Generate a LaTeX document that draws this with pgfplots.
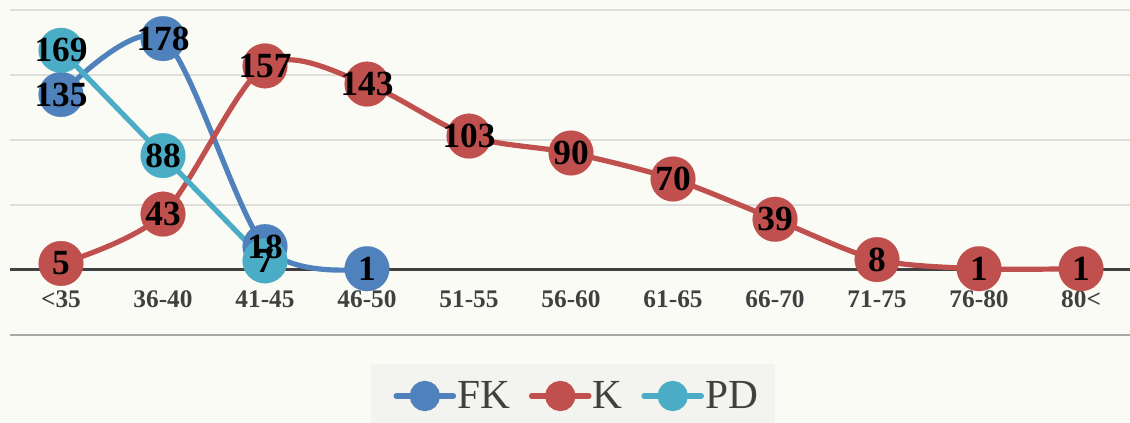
\documentclass[border=0pt]{standalone}
\usepackage{fontspec}
\setmainfont{Liberation Serif}
\usepackage{pgfplots}
\pgfplotsset{compat=1.18}
\definecolor{bgc}{HTML}{FBFBF6}
\definecolor{legc}{HTML}{F3F3EF}
\definecolor{gridc}{HTML}{DEDEDA}
\definecolor{botc}{HTML}{A8A8A6}
\definecolor{axc}{HTML}{404040}
\definecolor{tickc}{HTML}{404040}
\definecolor{fkc}{HTML}{4F81BD}
\definecolor{kc}{HTML}{C0504D}
\definecolor{pdc}{HTML}{4BACC6}
\begin{document}
\begin{tikzpicture}
\clip (0,0) rectangle (847.5pt,317.25pt);
\fill[bgc] (0,0) rectangle (847.5pt,317.25pt);
\fill[legc] (278.25pt,0) rectangle (581.25pt,44.25pt);
\begin{axis}[
  at={(7.5pt,66pt)}, anchor=south west, scale only axis,
  width=840pt, height=243.75pt,
  xmin=-0.5, xmax=10.48, ymin=-50, ymax=200,
  axis x line*=middle, axis y line*=left,
  x axis line style={draw=axc, line width=2.25pt},
  y axis line style={draw=none},
  xtick={0,...,10},
  xticklabels={{<35},{36-40},{41-45},{46-50},{51-55},{56-60},{61-65},{66-70},{71-75},{76-80},{80<}},
  major tick length=0pt,
  ytick={50,100,150,200}, yticklabels={},
  ymajorgrids, grid style={draw=gridc, line width=1pt},
  extra y ticks={-50}, extra y tick labels={},
  extra y tick style={grid style={draw=botc, line width=1.2pt}},
  xticklabel style={font=\bfseries\fontsize{19}{19}\selectfont, text=tickc, anchor=base, yshift=-28.5pt},
  /pgf/number format/assume math mode=true,
  clip=false,
  legend columns=-1,
  legend style={at={(0.5058,-0.1877)}, anchor=center, draw=none, fill=none,
    font=\fontsize{31}{31}\selectfont, text=axc,
    nodes={inner xsep=1pt, inner ysep=0pt},
    /tikz/every even column/.append style={column sep=13pt}},
]
\addplot[smooth, fkc, line width=3.9pt, mark=*, mark size=16.8pt, mark options={line width=0.1pt, fill=fkc},
  legend image code/.code={\draw[line width=4.2pt, line cap=round, fkc] (0pt,0pt) -- (42.75pt,0pt); \fill[fkc] (21.4pt,0pt) circle (9.4pt);}]
  coordinates {(0,135) (1,178) (2,18) (3,1)};
\addlegendentry{FK}
\addplot[smooth, kc, line width=3.9pt, mark=*, mark size=16.8pt, mark options={line width=0.1pt, fill=kc},
  legend image code/.code={\draw[line width=4.2pt, line cap=round, kc] (0pt,0pt) -- (42.75pt,0pt); \fill[kc] (21.4pt,0pt) circle (9.4pt);}]
  coordinates {(0,5) (1,43) (2,157) (3,143) (4,103) (5,90) (6,70) (7,39) (8,8) (9,1) (10,1)};
\addlegendentry{K}
\addplot[smooth, pdc, line width=3.9pt, mark=*, mark size=16.8pt, mark options={line width=0.1pt, fill=pdc},
  legend image code/.code={\draw[line width=4.2pt, line cap=round, pdc] (0pt,0pt) -- (42.75pt,0pt); \fill[pdc] (21.4pt,0pt) circle (9.4pt);}]
  coordinates {(0,169) (1,88) (2,7)};
\addlegendentry{PD}
% data labels on top
\pgfplotsset{lbl/.style={draw=none, mark=none, forget plot, nodes near coords,
  every node near coord/.append style={anchor=center, font=\bfseries\fontsize{26.5}{26.5}\selectfont, text=black}}}
\addplot[lbl] coordinates {(0,135) (1,178) (2,18) (3,1)};
\addplot[lbl] coordinates {(0,5) (1,43) (2,157) (3,143) (4,103) (5,90) (6,70) (7,39) (8,8) (9,1) (10,1)};
\addplot[lbl] coordinates {(0,169) (1,88) (2,7)};
\end{axis}
\end{tikzpicture}
\end{document}
